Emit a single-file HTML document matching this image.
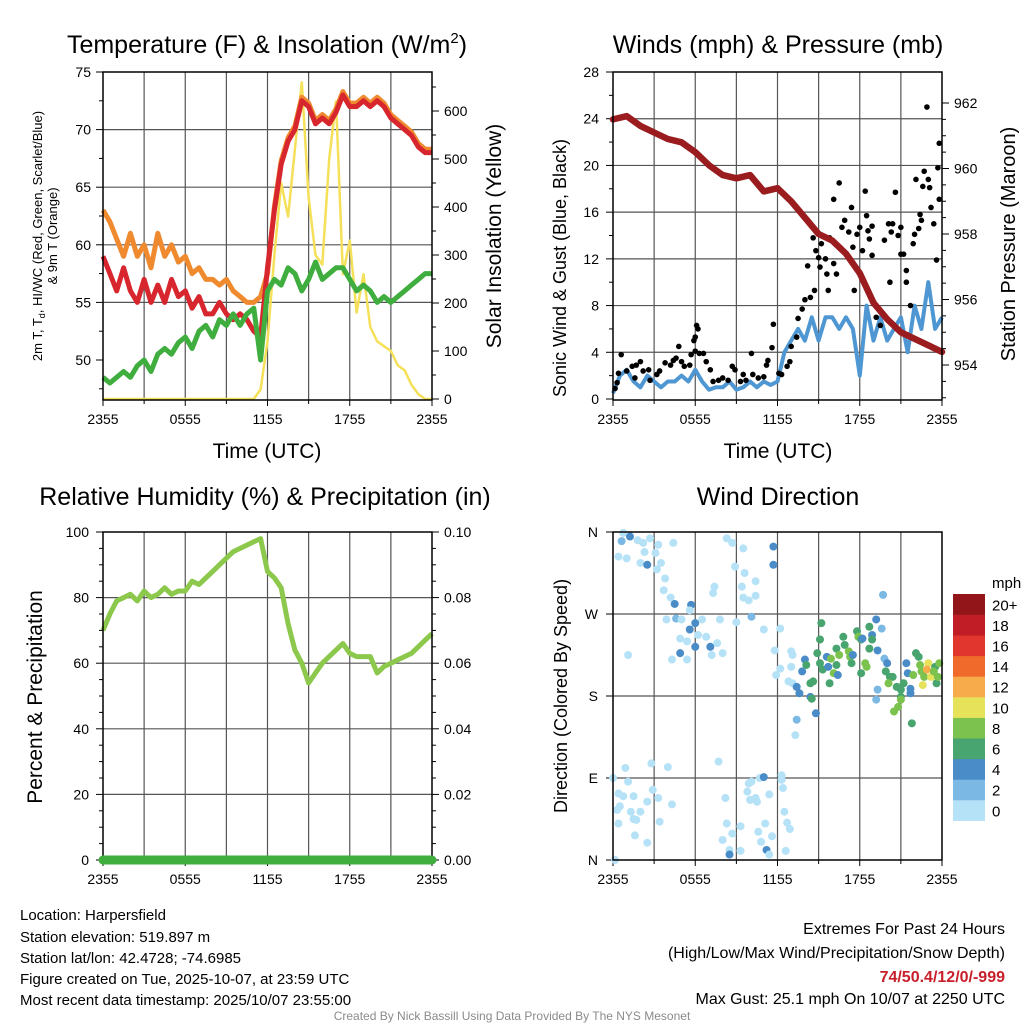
<!DOCTYPE html>
<html><head><meta charset="utf-8"><style>
body{margin:0;background:#fff}
svg text{font-family:"Liberation Sans",Arial,sans-serif;fill:#000}
</style></head><body>
<svg id="svg" width="1024" height="1024" viewBox="0 0 1024 1024" xmlns="http://www.w3.org/2000/svg">
<text x="267" y="53" font-size="25" text-anchor="middle">Temperature (F) &amp; Insolation (W/m<tspan dy="-10" font-size="15">2</tspan><tspan dy="10">)</tspan></text>
<text x="778" y="53" font-size="25" text-anchor="middle">Winds (mph) &amp; Pressure (mb)</text>
<text x="265" y="505" font-size="25" text-anchor="middle">Relative Humidity (%) &amp; Precipitation (in)</text>
<text x="778" y="505" font-size="25" text-anchor="middle">Wind Direction</text>

<text transform="translate(42,236) rotate(-90)" font-size="13" text-anchor="middle">2m T, T<tspan font-size="9" dy="3">d</tspan><tspan dy="-3">, HI/WC (Red, Green, Scarlet/Blue)</tspan></text>
<text transform="translate(57,236) rotate(-90)" font-size="13" text-anchor="middle">&amp; 9m T (Orange)</text>
<text transform="translate(501,236) rotate(-90)" font-size="21" text-anchor="middle">Solar Insolation (Yellow)</text>
<text x="267" y="458" font-size="21" text-anchor="middle">Time (UTC)</text>
<text transform="translate(566,268) rotate(-90)" font-size="18" text-anchor="middle">Sonic Wind &amp; Gust (Blue, Black)</text>
<text transform="translate(1015,244) rotate(-90)" font-size="20" text-anchor="middle">Station Pressure (Maroon)</text>
<text x="778" y="458" font-size="21" text-anchor="middle">Time (UTC)</text>
<text transform="translate(42,697) rotate(-90)" font-size="21" text-anchor="middle">Percent &amp; Precipitation</text>
<text transform="translate(567,696) rotate(-90)" font-size="18" text-anchor="middle">Direction (Colored By Speed)</text>

<g font-size="15">
<text x="20" y="920">Location: Harpersfield</text>
<text x="20" y="942">Station elevation: 519.897 m</text>
<text x="20" y="963">Station lat/lon: 42.4728; -74.6985</text>
<text x="20" y="984">Figure created on Tue, 2025-10-07, at 23:59 UTC</text>
<text x="20" y="1005">Most recent data timestamp: 2025/10/07 23:55:00</text>
</g>
<g font-size="16" text-anchor="end">
<text x="1005" y="934">Extremes For Past 24 Hours</text>
<text x="1005" y="958">(High/Low/Max Wind/Precipitation/Snow Depth)</text>
<text x="1005" y="982" font-weight="bold" style="fill:#c8202a">74/50.4/12/0/-999</text>
<text x="1005" y="1004">Max Gust: 25.1 mph On 10/07 at 2250 UTC</text>
</g>
<text x="512" y="1020" font-size="12" text-anchor="middle" style="fill:#8a8a8a">Created By Nick Bassill Using Data Provided By The NYS Mesonet</text>
<text x="992" y="588" font-size="15">mph</text>
</svg>
<script>
// half-hourly series (hours 0..24 after 2355 UTC)
const temp2m=[59,57.5,56,58,56,55,57,55,56.5,55,57,55.5,56,54.5,55.5,54,54,55,54,53.5,54,53.5,52.5,52,58,63,67,69,70,72.5,72,70.5,71,70.5,71.5,73,72,72,72.5,72,72.5,72,71,70.5,70,69.5,68.5,68,68];
const temp9m=[63,62,60.5,59,61,59,60,58,61,59,60,58.5,59,57.5,58,57,57,56.5,57,56,55.5,55,55,55.5,57.5,63.3,67.3,69.3,70.3,72.8,72.3,70.8,71.3,70.8,71.8,73.3,72.3,72.3,72.8,72.3,72.8,72.3,71.3,70.8,70.3,69.8,68.8,68.3,68.3];
const dewpt=[48.5,48,48.5,49,48.5,49.5,50,49,50.5,51,50.5,51.5,52,51,52.5,53,52,53.5,53,54,53,54,54.5,50,56,57,56.5,58,57.5,56,57,58.5,57,57.5,58,58,57,56,56.5,56,55,55.5,55,55.5,56,56.5,57,57.5,57.5];
const solar=[0,0,0,0,0,0,0,0,0,0,0,0,0,0,0,0,0,0,0,0,0,0,0,20,120,300,450,380,520,660,420,300,280,500,620,260,330,180,260,150,120,110,100,70,60,30,10,0,0];
const sonicWind=[0.5,2,2.5,1.5,1,2,1.5,1,1.5,1.5,2,1.5,2.5,1.5,0.8,1,1,1.5,0.8,1,1.5,1,1.5,1.2,1.5,4,5,6,5,7,5,7,7,6,7,6,2,8,5,7,5,6,7,4,8,6,10,6,7];
const rh=[70,75,79,80,81,79,82,80,81,83,81,82,82,85,84,86,88,90,92,94,95,96,97,98,88,86,83,72,64,60,54,57,60,62,64,66,63,62,62,62,57,59,60,61,62,63,65,67,69];
const precip=[0,0,0,0,0,0,0,0,0,0,0,0,0,0,0,0,0,0,0,0,0,0,0,0,0,0,0,0,0,0,0,0,0,0,0,0,0,0,0,0,0,0,0,0,0,0,0,0,0];
// hourly pressure
const pressure=[961.5,961.6,961.3,961.1,960.9,960.8,960.5,960.1,959.8,959.7,959.8,959.3,959.4,959.0,958.5,958.0,957.8,957.4,956.8,955.9,955.4,955.0,954.8,954.6,954.4];
// gusts: hour, mph
const gustHour=[0.15,0.3,0.4,0.6,1,1.4,1.7,2,1.6,2.2,2.6,2.7,3.2,3.4,3.8,4.2,4.4,4.6,4.8,5,5.2,5.6,5.7,5.9,6,6.1,6.2,6,6.3,6.6,6.8,7.1,7.3,7.7,8,8.4,8.7,8.9,9.3,9.5,9.7,10.1,10.2,10.6,11,11.2,11.3,11.6,11.7,12.1,12.3,12.7,12.9,13,13.4,13.5,13.8,14,14.2,14.4,14.6,14.7,14.8,15,15.1,15.2,15.5,15.6,15.7,15.8,16.1,16.1,16.3,16.5,16.7,16.9,17.2,17.4,17.5,17.6,17.8,18,18.2,18.4,18.5,18.6,18.7,18.9,18.9,19.2,19.5,19.8,20.1,20.2,20.3,20.4,20.6,20.8,21,21,21.2,21.4,21.4,21.7,21.9,22,22.1,22.3,22.4,22.5,22.6,22.7,22.9,23,23.1,23.2,23.4,23.6,23.7,23.8,23.8];
const gustMph=[0.9,1.4,2.2,3.8,2.4,2.8,2.9,3.2,1.8,2.4,2.5,1.6,2.1,2.4,3.1,2.9,3.3,3.5,4.5,3.2,2.8,2.9,3.8,5,5.3,6.3,6,4.1,3.9,3.9,3.2,2.5,1.5,1.6,1.8,1.6,2.8,2.5,1.5,2.1,1.6,3.9,2.1,1.8,1.9,2.9,3.3,4.4,6.4,2.2,2.1,2.8,3.2,4.5,5.3,6.9,7.7,8.5,11.4,8.7,13.8,9.3,12.7,12.1,11.3,13.3,12,10.7,9.3,13.8,11.6,17.1,10.7,18.5,14.7,15.3,14.3,16.4,13,9.3,14.1,14.7,12.7,17.8,15.7,14.4,13.7,14.8,12.3,7,6.3,13.6,15,10,14.3,15,17.7,14,14.7,12.4,12.4,11,10,8,13.3,14.1,18.8,14.6,15.8,15.3,18.2,19.5,25,18.8,18.1,16.4,15,11.9,19.8,17.1,21.9];
// wind direction scatter: hour, degrees, speed mph
const dirHour=[0.75,0.63,1.24,0.4,1.0,1.8,2.2,2.7,2.3,3.1,3.3,4.4,2.0,2.5,3.2,3.5,3.8,3.7,4.2,4.5,3.9,4.6,5,5.7,5.6,6,5.6,6.2,6.5,6.8,4.9,5.4,6,4.9,4.3,5.4,7.1,7.6,7.2,8,7.8,7.3,7.4,1.1,8.3,8.7,9.5,8.9,9.6,10.4,9.4,9.5,9.9,10.4,10.1,9,11,11.7,11.7,12.2,11.8,12.2,11.9,13,13.1,13,12.8,13.1,13.4,13.6,13.4,13.3,14,13.8,14.1,14.4,14.6,14.4,14.5,14.8,14.9,15.1,15.2,15.1,15.6,15.3,15.7,15.9,16.1,16.3,16.4,15.8,16.3,16.5,16.8,16.9,17.2,17.3,17.4,17.5,17.8,17.9,18.1,18.2,18.1,18.4,18.5,18.7,18.9,19.2,18.9,18.7,19.3,19.6,19.7,19.8,20,19.9,20.2,20.4,20.1,20.7,21.2,21,19.3,19.2,21,21,20.8,20.5,21.8,21.5,21.4,21.7,21.7,21.9,22.1,22.3,22.4,22.5,22.7,23,22.9,23.2,22.6,23.5,23.6,23.8,23.7,23.4,0,0.9,1.1,2.8,4,0.4,0.75,1.5,0.5,0.3,1.3,2,1.5,1.7,2.5,2.9,3.3,4.3,3.4,0.4,1.6,2.5,0.15,7.7,8.2,8.3,8.7,8,8.5,8.5,9.3,9.3,9.9,10.1,9.8,10,10.4,10.5,10.7,11,11.4,12.3,12.3,12.4,12.5,12.7,12.9,11.1,10.6,10.8,11.6,11.2,11.4,12.6];
const dirDeg=[359,350,355,333,331,351,348,353,338,337,346,348,326,324,319,326,309,296,288,281,264,265,264,280,274,260,253,247,264,245,243,240,234,227,220,220,234,238,225,227,264,293,300,225,353,348,342,322,315,306,300,288,285,290,267,261,253,344,324,254,230,210,203,229,225,212,196,194,190,183,154,137,220,207,214,194,196,179,177,161,227,242,260,216,223,209,212,221,205,214,203,194,232,225,245,236,229,223,216,225,251,245,242,243,205,216,212,256,247,264,242,232,230,254,291,221,216,207,201,201,194,190,194,187,187,176,179,176,168,163,150,205,216,188,183,203,227,223,214,207,201,216,209,201,192,212,194,216,201,207,90,101,86,106,102,73,70,70,59,55,53,53,45,44,64,77,68,61,42,40,27,19,0,108,68,40,29,22,11,6,37,10,84,86,75,66,68,64,90,91,72,93,88,79,53,41,34,40,31,20,26,11,6,10];
const dirSpd=[1,3,5,1,1,1,1,1,1,1,1,1,1,5,1,1,1,1,1,5,1,3,1,5,1,5,5,1,1,1,1,1,5,5,1,1,5,1,1,1,1,1,1,1,1,1,1,1,1,1,1,1,1,1,3,1,1,5,5,1,1,1,1,1,1,1,1,1,5,5,3,1,5,5,7,7,7,5,7,5,7,7,7,7,5,7,5,9,9,7,5,7,7,9,7,7,9,9,7,5,7,9,7,5,7,9,9,7,5,5,7,7,5,3,3,3,5,7,7,7,9,7,7,7,3,3,7,9,9,9,7,5,5,5,5,9,7,7,9,9,9,11,13,11,11,7,7,9,9,9,1,1,1,1,1,1,1,1,1,1,1,1,1,1,1,1,1,1,1,1,1,1,1,1,1,1,1,1,1,5,1,1,1,1,1,1,1,1,1,5,1,1,1,1,1,1,1,1,1,1,1,5,1];
// colorbar
const cbLabels=["0","2","4","6","8","10","12","14","16","18","20+"];
const cbColors=["#b6e2f7","#7bb8e3","#4a8cc7","#48a56f","#7cc24e","#e6e25a","#f8ab4a","#f06a2b","#e0362d","#c01d27","#921619"];
const xTickLabels=["2355","0555","1155","1755","2355"];
const tempTicks=[50,55,60,65,70,75];
const solarTicks=[0,100,200,300,400,500,600];
const windTicks=[0,4,8,12,16,20,24,28];
const presTicks=[954,956,958,960,962];
const rhTicks=[0,20,40,60,80,100];
const precipTicks=["0.00","0.02","0.04","0.06","0.08","0.10"];
const dirTicks=["N","E","S","W","N"];

const NS="http://www.w3.org/2000/svg";
const svg=document.getElementById('svg');
function mk(tag,attrs,parent){const e=document.createElementNS(NS,tag);for(const k in attrs)e.setAttribute(k,attrs[k]);(parent||svg).appendChild(e);return e;}
function lin(d0,d1,r0,r1){return v=>r0+(v-d0)/(d1-d0)*(r1-r0);}
function line(x1,y1,x2,y2,c,w,p){return mk('line',{x1,y1,x2,y2,stroke:c||'#000','stroke-width':w||1},p);}
function txt(x,y,s,anchor,size,p){const t=mk('text',{x,y,'font-size':size||14,'text-anchor':anchor||'middle'},p);t.textContent=s;return t;}
function pathFrom(xs,ys){return xs.map((x,i)=>(i?'L':'M')+x.toFixed(1)+','+ys[i].toFixed(1)).join('');}

function panel(L,T,R,B,name){
  const g=mk('g',{});
  
  
  const xs=lin(0,24,L,R);
  for(let h=3;h<24;h+=3){const l=line(xs(h),T,xs(h),B,'#555',1.2,g);}
  for(let i=0;i<5;i++){const x=xs(i*6);line(x,B,x,B+6,'#000',1,g);const t=txt(x,B+24,xTickLabels[i],'middle',14,g);}
  for(let h=3;h<24;h+=6)line(xs(h),B,xs(h),B+4,'#000',1,g);
  return {g,xs};
}
function frame(g,L,T,R,B){mk('rect',{x:L,y:T,width:R-L,height:B-T,fill:'none',stroke:'#000','stroke-width':1.5},g);}
const hh=temp2m.map((_,i)=>i*0.5);

// ===== Panel 1 =====
{const L=103,T=72,R=432,B=400;const P=panel(L,T,R,B,'temperature-panel');const g=P.g,xs=P.xs;
 const yT=lin(50,75,360,72), yS=lin(0,600,399,111);
 tempTicks.forEach(v=>{const y=yT(v);if(v>50&&v<75){const gl=line(L,y,R,y,'#555',1.2,g);}line(L-7,y,L,y,'#000',1,g);const t=txt(L-12,y+5,String(v),'end',14,g);line(L-4,yT(v-2.5),L,yT(v-2.5),'#000',1,g);});
 solarTicks.forEach(v=>{const y=yS(v);line(R,y,R+7,y,'#000',1,g);const t=txt(R+12,y+5,String(v),'start',14,g);line(R,yS(v+50),R+4,yS(v+50),'#000',1,g);});
 const sol=mk('path',{d:pathFrom(hh.map(xs),solar.map(yS)),fill:'none',stroke:'#f5e05a','stroke-width':2.5,'stroke-linejoin':'round'},g);
 
 const o=mk('path',{d:pathFrom(hh.map(xs),temp9m.map(yT)),fill:'none',stroke:'#f08a2f','stroke-width':5,'stroke-linejoin':'round'},g);
 
 const r=mk('path',{d:pathFrom(hh.map(xs),temp2m.map(yT)),fill:'none',stroke:'#d7262e','stroke-width':5,'stroke-linejoin':'round'},g);
 
 const d=mk('path',{d:pathFrom(hh.map(xs),dewpt.map(yT)),fill:'none',stroke:'#3fae3f','stroke-width':5,'stroke-linejoin':'round'},g);
 
 frame(g,L,T,R,B);}

// ===== Panel 2 =====
{const L=613,T=72,R=942,B=400;const P=panel(L,T,R,B,'winds-panel');const g=P.g,xs=P.xs;
 const yW=lin(0,28,399,72), yP=lin(954,962,365,103);
 windTicks.forEach(v=>{const y=yW(v);if(v>0&&v<28){const gl=line(L,y,R,y,'#555',1.2,g);}line(L-7,y,L,y,'#000',1,g);const t=txt(L-14,y+5,String(v),'end',14,g);if(v<28)line(L-4,yW(v+2),L,yW(v+2),'#000',1,g);});
 presTicks.forEach(v=>{const y=yP(v);line(R,y,R+7,y,'#000',1,g);const t=txt(R+12,y+5,String(v),'start',14,g);[0.5,1,1.5].forEach(f=>{const yy=yP(v-f);if(yy<B)line(R,yy,R+4,yy,'#000',1,g);});});
 const bw=mk('path',{d:pathFrom(hh.map(xs),sonicWind.map(yW)),fill:'none',stroke:'#4f97d2','stroke-width':4,'stroke-linejoin':'round'},g);
 
 gustHour.forEach((h,i)=>{if(gustMph[i]===undefined)return;const c=mk('circle',{cx:xs(h),cy:yW(gustMph[i]),r:2.8,fill:'#000'},g);
  
  });
 const ph=pressure.map((_,i)=>i);
 const pl=mk('path',{d:pathFrom(ph.map(xs),pressure.map(yP)),fill:'none',stroke:'#9b1c1f','stroke-width':6.5,'stroke-linejoin':'round','stroke-linecap':'round'},g);
 
 frame(g,L,T,R,B);}

// ===== Panel 3 =====
{const L=103,T=532,R=432,B=860;const P=panel(L,T,R,B,'humidity-panel');const g=P.g,xs=P.xs;
 const yR=lin(0,100,860,532);
 rhTicks.forEach((v,i)=>{const y=yR(v);if(v>0&&v<100){const gl=line(L,y,R,y,'#555',1.2,g);}line(L-7,y,L,y,'#000',1,g);const t=txt(L-14,y+5,String(v),'end',14,g);
  line(R,y,R+7,y,'#000',1,g);const t2=txt(R+12,y+5,precipTicks[i],'start',14,g);
  if(v<100){[5,10,15].forEach(f=>{line(L-4,yR(v+f),L,yR(v+f),'#000',1,g);line(R,yR(v+f),R+4,yR(v+f),'#000',1,g);});}});
 const yPr=lin(0,0.1,860,532);
 const rl=mk('path',{d:pathFrom(hh.map(xs),rh.map(yR)),fill:'none',stroke:'#8cc84b','stroke-width':5,'stroke-linejoin':'round'},g);
 
 frame(g,L,T,R,B);
 const pl=mk('path',{d:pathFrom(hh.map(xs),precip.map(yPr)),fill:'none',stroke:'#3fae3f','stroke-width':9,'stroke-linecap':'round'},g);
 }

// ===== Panel 4 =====
{const L=613,T=532,R=942,B=860;const P=panel(L,T,R,B,'wind-direction-panel');const g=P.g,xs=P.xs;
 const yD=lin(0,360,860,532);
 dirTicks.forEach((s,i)=>{const y=yD(i*90);if(i>0&&i<4){const gl=line(L,y,R,y,'#555',1.2,g);}line(L-7,y,L,y,'#000',1,g);const t=txt(L-15,y+5,s,'end',14,g);});
 function col(s){if(s===undefined||isNaN(s))s=1;let i=Math.floor(s/2);if(i>10)i=10;if(i<0)i=0;return cbColors[i];}
 const n=Math.min(dirHour.length,dirDeg.length);
 for(let i=0;i<n;i++){const c=mk('circle',{cx:xs(dirHour[i]),cy:yD(dirDeg[i]),r:4,fill:col(dirSpd[i])},g);
  
  }
 frame(g,L,T,R,B);
 const cb=mk('g',{});
 
 
 const bh=20.6, top=594;
 cbLabels.forEach((s,i)=>{const y=top+(10-i)*bh;mk('rect',{x:953,y:y,width:32,height:bh+0.3,fill:cbColors[i]},cb);const t=txt(992,y+bh/2+6,s,'start',15,cb);});}
</script>
</body></html>
